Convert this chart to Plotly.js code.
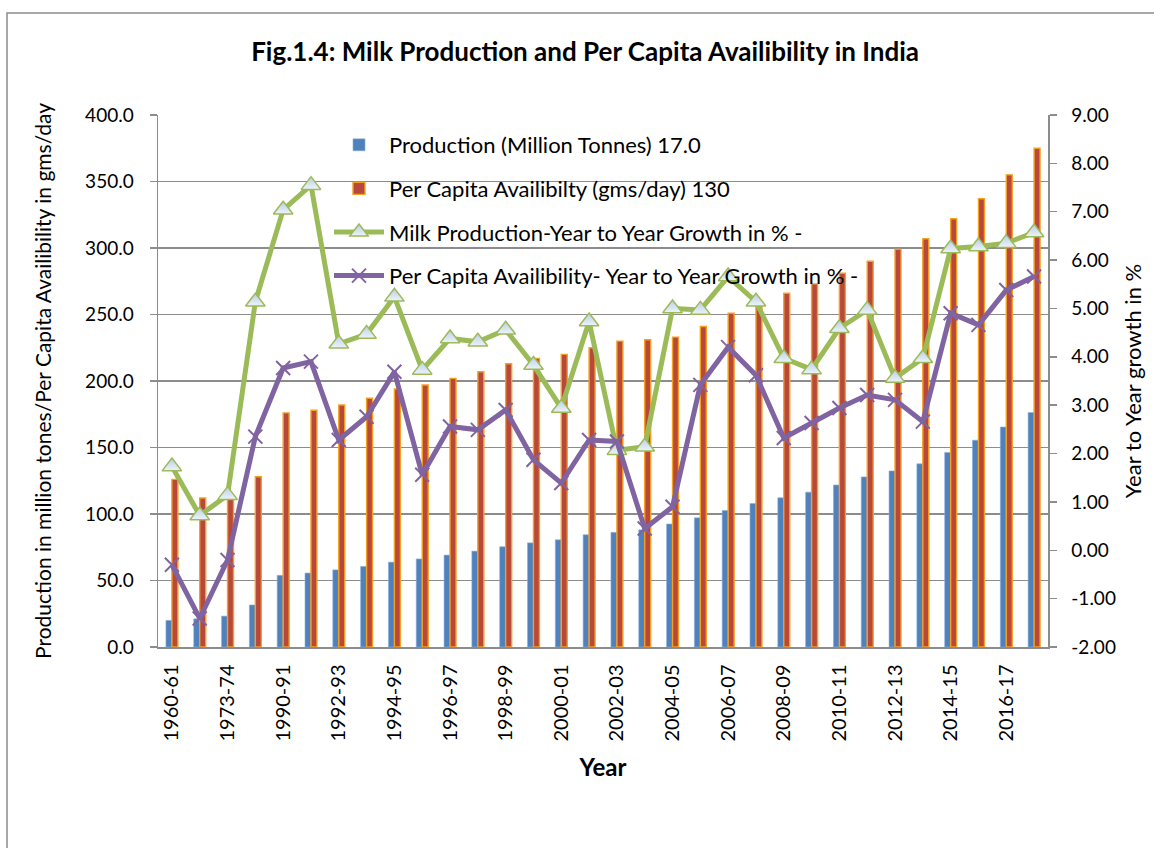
<!DOCTYPE html>
<html>
<head>
<meta charset="utf-8">
<script src="https://cdn.plot.ly/plotly-3.0.1.min.js"></script>
<style>html,body{margin:0;padding:0;background:#fff;}#chart{width:1154px;height:848px;}</style>
</head>
<body>
<div id="chart"></div>
<script>
const years = ["1960-61","1968-69","1973-74","1980-81","1990-91","1991-92","1992-93","1993-94","1994-95","1995-96","1996-97","1997-98","1998-99","1999-00","2000-01","2001-02","2002-03","2003-04","2004-05","2005-06","2006-07","2007-08","2008-09","2009-10","2010-11","2011-12","2012-13","2013-14","2014-15","2015-16","2016-17","2017-18"];
const production = [20.0,21.2,23.2,31.6,53.9,55.6,58.0,60.6,63.8,66.2,69.1,72.1,75.4,78.3,80.6,84.4,86.2,88.1,92.5,97.1,102.6,107.9,112.2,116.4,121.8,127.9,132.4,137.7,146.3,155.5,165.4,176.3];
const perCapita = [126,112,111,128,176,178,182,187,194,197,202,207,213,217,220,225,230,231,233,241,251,260,266,273,281,290,299,307,322,337,355,375];
const prodGrowth = [1.73,0.72,1.14,5.14,7.04,7.55,4.27,4.47,5.24,3.73,4.38,4.31,4.56,3.83,2.94,4.73,2.07,2.14,5.00,4.97,5.66,5.14,3.97,3.74,4.59,4.97,3.56,3.97,6.24,6.28,6.35,6.57];
const pcGrowth = [-0.30,-1.41,-0.20,2.35,3.77,3.90,2.28,2.76,3.69,1.56,2.56,2.49,2.90,1.87,1.39,2.28,2.25,0.45,0.90,3.42,4.20,3.62,2.32,2.63,2.94,3.21,3.11,2.66,4.90,4.66,5.38,5.66];
const tickYears = years.filter((y,i)=>i%2===0);
const growthTicks = [-2,-1,0,1,2,3,4,5,6,7,8,9];
const growthTickText = growthTicks.map(v=>v.toFixed(2));

const F = "Lato, 'Open Sans', sans-serif";
const traces = [
  {type:'bar', x:years, y:production, name:'Production (Million Tonnes) 17.0', legendgroup:'a',
   marker:{color:'#4F81BD', line:{color:'#8FB0DA', width:0.6}}},
  {type:'bar', x:years, y:perCapita, name:'Per Capita Availibilty (gms/day) 130', legendgroup:'b',
   marker:{color:'#B8473C', line:{color:'#F4A122', width:1.4}}},
  {type:'scatter', mode:'lines+markers', x:years, y:prodGrowth, yaxis:'y2', name:'Milk Production-Year to Year Growth in % -', legendgroup:'c',
   line:{color:'#9BBB59', width:5},
   marker:{symbol:'triangle-up', size:17, color:'#B9CDE5', gradient:{type:'vertical', color:'#EEF3FA'}, line:{color:'#9BBB59', width:1.5}}},
  {type:'scatter', mode:'lines+markers', x:years, y:pcGrowth, yaxis:'y2', name:'Per Capita Availibility- Year to Year Growth in % -', legendgroup:'d',
   line:{color:'#8064A2', width:5},
   marker:{symbol:'x-thin', size:14, color:'#8064A2', line:{color:'#8064A2', width:2}}}
];

const layout = {
  width:1154, height:848,
  margin:{l:158, r:106, t:115, b:201},
  paper_bgcolor:'#fff', plot_bgcolor:'rgba(0,0,0,0)',
  font:{family:F, color:'#000', size:18},
  barmode:'group', bargap:0.57, bargroupgap:0,
  showlegend:true,
  title:{text:'<b>Fig.1.4: Milk Production and Per Capita Availibility in India</b>', font:{family:F, size:26, color:'#000'},
         x:0.507, xref:'container', xanchor:'center', y:1-52/848, yref:'container', yanchor:'middle'},
  legend:{x:(329-158)/890, y:(647-124)/532, xanchor:'left', yanchor:'top', bgcolor:'rgba(0,0,0,0)', borderwidth:0,
          font:{family:F, size:22, color:'#000'}, traceorder:'grouped', tracegroupgap:12, itemwidth:50},
  xaxis:{type:'category', range:[-0.5,31.5], tickmode:'array', tickvals:tickYears, ticktext:tickYears,
         tickangle:-90, tickfont:{family:F, size:20}, showgrid:false, showline:true, linecolor:'#8c8c8c', linewidth:1.5,
         ticks:'', ticklabelstandoff:8,
         title:{text:'<b>Year</b>', font:{family:F, size:24}, standoff:18}},
  yaxis:{range:[0,400], dtick:50, tickformat:'.1f', showgrid:true, gridcolor:'#8c8c8c', gridwidth:1.5,
         showline:true, linecolor:'#8c8c8c', linewidth:1.5, ticks:'outside', ticklen:7, tickcolor:'#8c8c8c', tickwidth:1.5,
         ticklabelstandoff:12, tickfont:{family:F, size:19}, zeroline:false,
         title:{text:'Production in million tones/Per Capita Availibility in gms/day', font:{family:F, size:21}, standoff:28}},
  yaxis2:{range:[-2,9], tickmode:'array', tickvals:growthTicks, ticktext:growthTickText, overlaying:'y', side:'right', showgrid:false, zeroline:false,
          showline:true, linecolor:'#8c8c8c', linewidth:1.5, ticks:'outside', ticklen:7, tickcolor:'#8c8c8c', tickwidth:1.5,
          ticklabelstandoff:11, tickfont:{family:F, size:19},
          title:{text:'Year to Year growth in %', font:{family:F, size:22}, standoff:10}},
  shapes:[{type:'rect', xref:'paper', yref:'paper', x0:(7-158)/890, x1:(1170-158)/890, y0:(647-870)/532, y1:(647-13)/532,
           line:{color:'#8c8c8c', width:1.5}, fillcolor:'rgba(0,0,0,0)', layer:'below'}]
};

Plotly.newPlot('chart', traces, layout, {displayModeBar:false, staticPlot:true});
</script>
</body>
</html>
